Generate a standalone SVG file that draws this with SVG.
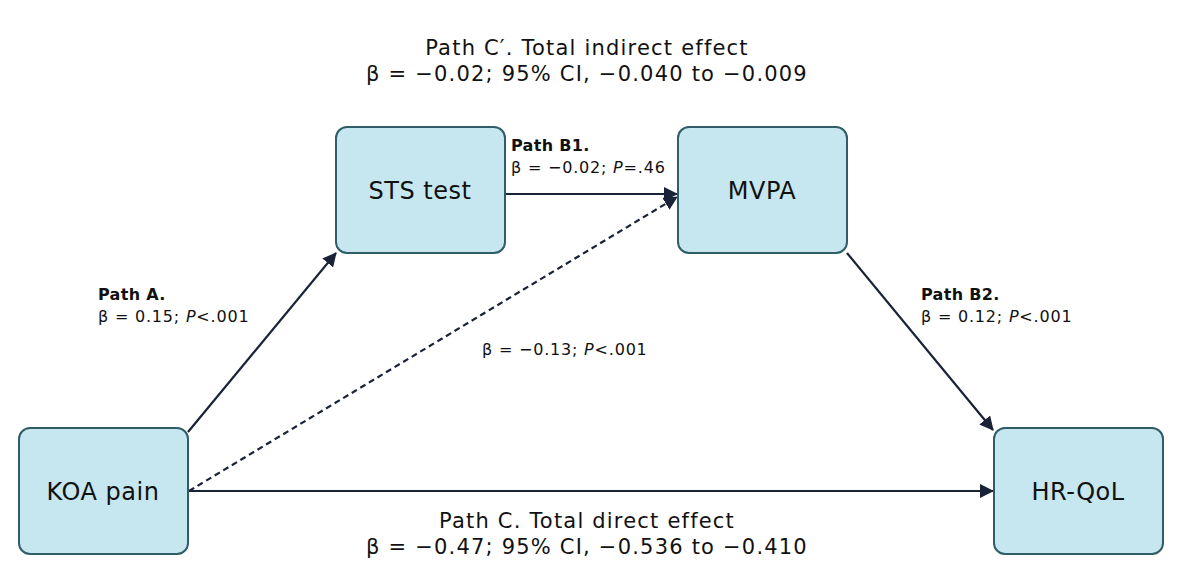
<svg xmlns="http://www.w3.org/2000/svg" width="1185" height="588" viewBox="0 0 1185 588">
<style>
.box{fill:#c6e7ef;stroke:#2f5d68;stroke-width:2}
.n{font-family:"DejaVu Sans",sans-serif;font-size:24px;fill:#111;text-anchor:middle;letter-spacing:0.5px}
.l{font-family:"DejaVu Sans",sans-serif;font-size:16px;fill:#111;letter-spacing:0.8px}
.b{font-weight:bold;letter-spacing:0.3px}
.t{font-family:"DejaVu Sans",sans-serif;font-size:21px;fill:#111;text-anchor:middle;letter-spacing:1.2px}
.c{stroke:#1a2238;stroke-width:2.2;fill:none}
</style>
<defs><marker id="a2" markerWidth="14" markerHeight="14" refX="13" refY="7" orient="auto" markerUnits="userSpaceOnUse"><path d="M0,0 L14,7 L0,14 Z" fill="#1a2238"/></marker></defs>
<rect width="1185" height="588" fill="#fff"/>
<g id="connectors">
<line class="c" x1="188" y1="432" x2="336" y2="253" marker-end="url(#a2)"/>
<line class="c" x1="506" y1="194" x2="677" y2="194" marker-end="url(#a2)"/>
<line class="c" x1="847" y1="253" x2="993" y2="430" marker-end="url(#a2)"/>
<line class="c" x1="189" y1="491" x2="993" y2="491" marker-end="url(#a2)"/>
<line class="c" x1="189" y1="491" x2="677" y2="197" stroke-dasharray="6,4" marker-end="url(#a2)"/>
</g>
<g id="sts"><rect class="box" x="336" y="127" width="169" height="126" rx="11"/><text class="n" x="420" y="199">STS test</text></g>
<g id="mvpa"><rect class="box" x="678" y="127" width="169" height="126" rx="11"/><text class="n" x="762" y="199">MVPA</text></g>
<g id="koa"><rect class="box" x="19" y="428" width="169" height="126" rx="11"/><text class="n" x="103" y="500">KOA pain</text></g>
<g id="hrqol"><rect class="box" x="994" y="428" width="169" height="126" rx="11"/><text class="n" x="1078" y="500">HR-QoL</text></g>
<g id="labels">
<text class="t" x="587" y="55">Path C′. Total indirect effect</text>
<text class="t" x="587" y="81">β = −0.02; 95% CI, −0.040 to −0.009</text>
<text class="t" x="587" y="528">Path C. Total direct effect</text>
<text class="t" x="587" y="554">β = −0.47; 95% CI, −0.536 to −0.410</text>
<text class="l b" x="511" y="151">Path B1.</text>
<text class="l" x="511" y="173">β = −0.02; <tspan font-style="italic">P</tspan>=.46</text>
<text class="l b" x="98" y="300">Path A.</text>
<text class="l" x="98" y="322">β = 0.15; <tspan font-style="italic">P</tspan>&lt;.001</text>
<text class="l b" x="921" y="300">Path B2.</text>
<text class="l" x="921" y="322">β = 0.12; <tspan font-style="italic">P</tspan>&lt;.001</text>
<text class="l" x="482" y="355">β = −0.13; <tspan font-style="italic">P</tspan>&lt;.001</text>
</g>
</svg>
